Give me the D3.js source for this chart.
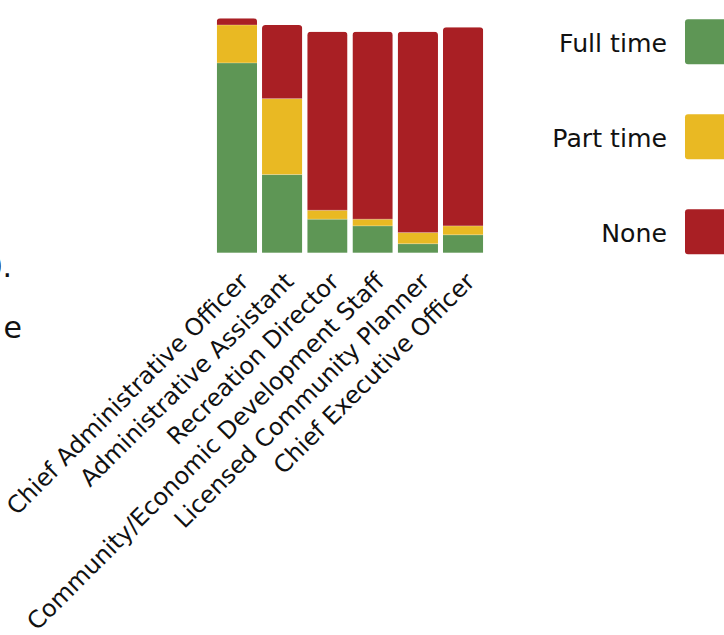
<!DOCTYPE html>
<html>
<head>
<meta charset="utf-8">
<script src="https://cdn.jsdelivr.net/npm/d3@7"></script>
<style>
  html, body { margin: 0; padding: 0; background: #fff; }
  svg { display: block; }
  text { font-family: "DejaVu Sans", sans-serif; fill: #111; }
</style>
</head>
<body>
<svg id="chart" width="724" height="635"></svg>
<script>
// ---- data ----
const categories = [
  "Chief Administrative Officer",
  "Administrative Assistant",
  "Recreation Director",
  "Community/Economic Development Staff",
  "Licensed Community Planner",
  "Chief Executive Officer"
];
const fullTime = [85, 35, 15, 12, 4, 8];
const partTime = [17, 34, 4, 3, 5, 4];
const noneVals = [3, 33, 80, 84, 90, 89];
const seriesNames = ["Full time", "Part time", "None"];
const seriesColors = ["#5e9655", "#e9b923", "#a91f24"];
const leftFragments = ["0.", "e"];

// ---- build ----
const svg = d3.select("#chart");
const rows = categories.map((c, i) => ({ cat: c, "Full time": fullTime[i], "Part time": partTime[i], "None": noneVals[i] }));
const stack = d3.stack().keys(seriesNames)(rows);

const x = d3.scaleBand().domain(categories).range([214.3, 485.7]).paddingInner(0.11).paddingOuter(0.055);
const y = d3.scaleLinear().domain([0, 105]).range([252.7, 18.3]);
const color = d3.scaleOrdinal().domain(seriesNames).range(seriesColors);

// clip paths with rounded top per bar
const defs = svg.append("defs");
rows.forEach((r, i) => {
  const total = fullTime[i] + partTime[i] + noneVals[i];
  defs.append("clipPath").attr("id", "clip" + i)
    .append("rect")
    .attr("x", x(r.cat)).attr("width", x.bandwidth())
    .attr("y", y(total)).attr("height", y(0) - y(total) + 10)
    .attr("rx", 3.5);
});

const g = svg.append("g");
stack.forEach(layer => {
  g.selectAll(null).data(layer).enter().append("rect")
    .attr("clip-path", (d, i) => `url(#clip${i})`)
    .attr("x", d => x(d.data.cat))
    .attr("width", x.bandwidth())
    .attr("y", d => y(d[1]))
    .attr("height", d => Math.max(0, y(d[0]) - y(d[1])))
    .attr("fill", color(layer.key));
});
// subtle separators between segments
stack.slice(0, 2).forEach(layer => {
  g.selectAll(null).data(layer).enter().append("line")
    .attr("x1", d => x(d.data.cat)).attr("x2", d => x(d.data.cat) + x.bandwidth())
    .attr("y1", d => y(d[1])).attr("y2", d => y(d[1]))
    .attr("stroke", "rgba(255,255,255,0.35)").attr("stroke-width", 0.8);
});

// x labels rotated
const labelSize = 18.5;
const lab = svg.append("g").selectAll("text").data(categories).enter().append("text")
  .attr("transform", d => `translate(${x(d) + x.bandwidth() / 2 + 13},${283}) rotate(-45)`)
  .attr("text-anchor", "end")
  .style("font-size", labelSize + "px")
  .text(d => d);
// fit first label to target length
const target = 330;
const len = lab.nodes()[0].getComputedTextLength();
const fs = labelSize * target / len;
lab.style("font-size", fs + "px");

// legend
const leg = svg.append("g");
seriesNames.forEach((s, i) => {
  const cy = 41.7 + i * 95;
  leg.append("rect").attr("x", 685).attr("y", cy - 22.5).attr("width", 45).attr("height", 45)
    .attr("rx", 3).attr("fill", color(s));
  leg.append("text").attr("x", 667).attr("y", cy + 10).attr("text-anchor", "end")
    .style("font-size", "23px").text(s);
});
// fit legend font so "Full time" is ~108px
const lt = leg.selectAll("text");
const l0 = lt.nodes()[0].getComputedTextLength();
lt.style("font-size", (23 * 108 / l0) + "px");

// cut-off fragments of text at the left edge
svg.append("text").attr("x", 12).attr("y", 277).attr("text-anchor", "end").style("font-size", "30px").text(leftFragments[0]);
svg.append("text").attr("x", 22).attr("y", 338).attr("text-anchor", "end").style("font-size", "30px").text(leftFragments[1]);
</script>
</body>
</html>
